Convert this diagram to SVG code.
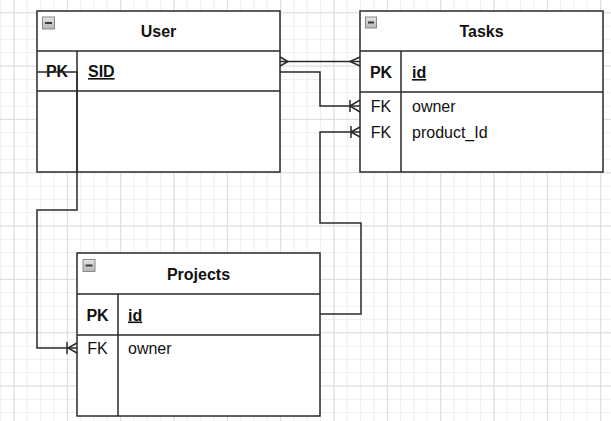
<svg xmlns="http://www.w3.org/2000/svg" width="611" height="421" viewBox="0 0 611 421">
<defs>
<pattern id="gmin" width="13.333" height="13.333" x="0.17" y="12.2" patternUnits="userSpaceOnUse">
<path d="M0.5 0V13.333M0 0.5H13.333" stroke="#eeeeee" stroke-width="1" fill="none"/>
</pattern>
<pattern id="gmaj" width="53.333" height="53.333" x="13.5" y="12.2" patternUnits="userSpaceOnUse">
<path d="M0.5 0V53.333M0 0.5H53.333" stroke="#dcdcdc" stroke-width="1" fill="none"/>
</pattern>
<linearGradient id="icn" x1="0" y1="0" x2="0" y2="1">
<stop offset="0" stop-color="#e4e4e4"/>
<stop offset="1" stop-color="#b4b4b4"/>
</linearGradient>
</defs>
<style>
.box{fill:#ffffff;stroke:#2a2a2a;stroke-width:1.5}
.ln{fill:none;stroke:#2a2a2a;stroke-width:1.5}
.ic{fill:url(#icn);stroke:#8a8a8a;stroke-width:1}
.icm{stroke:#3a3a3a;stroke-width:2}
.t{font-family:"Liberation Sans",Arial,sans-serif;font-size:16px;fill:#111}
.b{font-weight:bold}
.h{font-weight:bold;text-anchor:middle}
.c{text-anchor:middle}
.u{font-weight:bold;text-decoration:underline}
.cn{fill:none;stroke:#2a2a2a;stroke-width:1.5}
</style>
<rect width="611" height="421" fill="#ffffff"/>
<rect width="611" height="421" fill="url(#gmin)"/>
<rect width="611" height="421" fill="url(#gmaj)"/>

<g id="user">
<rect class="box" x="37" y="11" width="243" height="161"/>
<path class="ln" d="M37 51H280M37 91H280M77 51V172"/>
<rect class="ic" x="42.5" y="17" width="12" height="12"/>
<path class="icm" d="M45 23H52"/>
<text class="t h" x="158.5" y="37">User</text>
<text class="t h" x="57" y="77">PK</text>
<text class="t u" x="88" y="77">SID</text>
</g>

<g id="tasks">
<rect class="box" x="360" y="11" width="243" height="161"/>
<path class="ln" d="M360 51H603M360 92H603M401 51V172"/>
<rect class="ic" x="365.5" y="17" width="11" height="11"/>
<path class="icm" d="M368 22.5H374"/>
<text class="t h" x="481.5" y="37">Tasks</text>
<text class="t h" x="381" y="78">PK</text>
<text class="t u" x="412" y="78">id</text>
<text class="t c" x="381" y="111.5">FK</text>
<text class="t" x="412" y="111.5">owner</text>
<text class="t c" x="381" y="137.5">FK</text>
<text class="t" x="412" y="137.5">product_Id</text>
</g>

<g id="projects">
<rect class="box" x="77" y="253" width="243" height="163"/>
<path class="ln" d="M77 294H320M77 335H320M118 294V416"/>
<rect class="ic" x="83" y="259.5" width="12" height="12"/>
<path class="icm" d="M85.5 265.5H92.5"/>
<text class="t h" x="198.5" y="279.5">Projects</text>
<text class="t h" x="97.5" y="320.5">PK</text>
<text class="t u" x="128" y="320.5">id</text>
<text class="t c" x="97.5" y="354">FK</text>
<text class="t" x="128" y="354">owner</text>
</g>

<g id="connectors">
<path class="cn" d="M280 61.5H360"/>
<path class="cn" d="M280 57L288 61.5L280 66"/>
<path class="cn" d="M360 57L350 61.5L360 66"/>
<path class="cn" d="M280 72H320V106H360"/>
<path class="cn" d="M350 100V112M360 100L350 106L360 112"/>
<path class="cn" d="M320 314H361V223H320V132H360"/>
<path class="cn" d="M351 126V138M360 127L351 132L360 137"/>
<path class="cn" d="M37 72H77V210H37V348H77"/>
<path class="cn" d="M67 342V354M77 343L68 348L77 353"/>
</g>
</svg>
